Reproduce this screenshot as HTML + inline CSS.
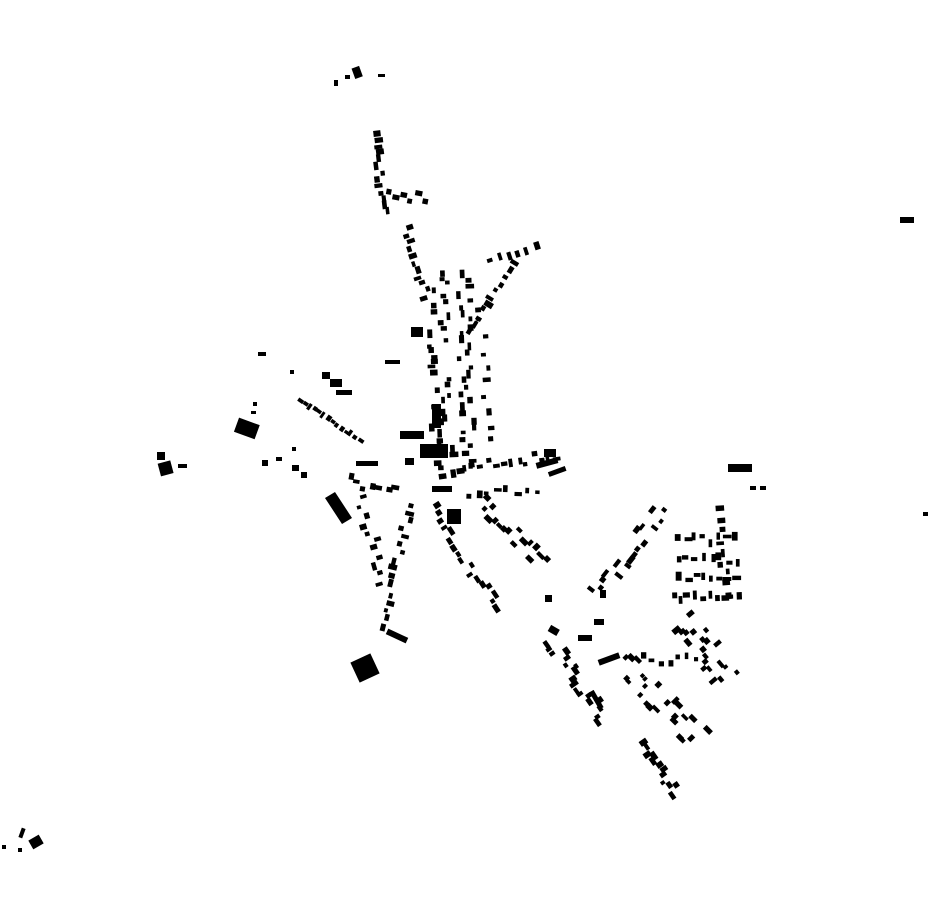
<!DOCTYPE html>
<html><head><meta charset="utf-8"><style>
html,body{margin:0;padding:0;background:#fff;}
svg{display:block;}
</style></head><body>
<svg id="s" width="930" height="924" viewBox="0 0 930 924" xmlns="http://www.w3.org/2000/svg">
<g fill="#000" id="g">
<!-- top -->
<rect x="353" y="67" width="8" height="11" transform="rotate(-20 357 72)"/>
<rect x="345" y="75" width="5" height="4"/>
<rect x="334" y="80" width="4" height="6"/>
<rect x="378" y="74" width="7" height="3"/>
<!-- large individual -->
<rect x="411" y="327" width="12" height="10"/>
<rect x="385" y="360" width="15" height="4"/>
<rect x="432" y="404" width="9" height="24"/>
<rect x="236" y="421" width="22" height="15" transform="rotate(20 247 428)"/>
<rect x="251" y="411" width="5" height="3"/>
<rect x="253" y="402" width="4" height="4"/>
<rect x="258" y="352" width="8" height="4"/>
<rect x="290" y="370" width="4" height="4"/>
<rect x="322" y="372" width="8" height="7"/>
<rect x="330" y="379" width="12" height="8"/>
<rect x="336" y="390" width="16" height="5"/>
<rect x="157" y="452" width="8" height="8"/>
<rect x="159" y="462" width="13" height="13" transform="rotate(-15 165 468)"/>
<rect x="178" y="464" width="9" height="4"/>
<rect x="262" y="460" width="6" height="6"/>
<rect x="276" y="457" width="6" height="4"/>
<rect x="292" y="447" width="4" height="4"/>
<rect x="292" y="465" width="7" height="6"/>
<rect x="301" y="472" width="6" height="6"/>
<rect x="400" y="431" width="24" height="8"/>
<rect x="420" y="444" width="28" height="14"/>
<rect x="405" y="458" width="9" height="7"/>
<rect x="356" y="461" width="22" height="5"/>
<rect x="432" y="486" width="20" height="6"/>
<rect x="447" y="509" width="14" height="15"/>
<polygon points="325,498 335,492 352,518 342,524"/>
<rect x="386" y="633" width="22" height="6" transform="rotate(25 397 636)"/>
<rect x="354" y="657" width="22" height="22" transform="rotate(-25 365 668)"/>
<rect x="536" y="460" width="22" height="6" transform="rotate(-15 547 463)"/>
<rect x="544" y="449" width="12" height="8"/>
<rect x="548" y="469" width="18" height="5" transform="rotate(-20 557 471)"/>
<rect x="728" y="464" width="24" height="8"/>
<rect x="750" y="486" width="6" height="4"/>
<rect x="760" y="486" width="6" height="4"/>
<rect x="900" y="217" width="14" height="6"/>
<rect x="923" y="512" width="5" height="4"/>
<rect x="578" y="635" width="14" height="6"/>
<rect x="594" y="619" width="10" height="6"/>
<rect x="598" y="656" width="22" height="6" transform="rotate(-20 609 659)"/>
<rect x="545" y="595" width="7" height="7"/>
<rect x="549" y="627" width="10" height="7" transform="rotate(30 554 630)"/>
<rect x="600" y="590" width="6" height="8"/>
<rect x="594" y="690" width="5" height="20" transform="rotate(-30 596 700)"/>
<!-- bottom-left -->
<rect x="30" y="837" width="12" height="10" transform="rotate(-30 36 842)"/>
<rect x="20" y="828" width="4" height="10" transform="rotate(20 22 833)"/>
<rect x="18" y="848" width="4" height="4"/>
<rect x="2" y="845" width="4" height="4"/>
</g>
</svg>
<script>
(function(){
var g=document.getElementById('g');var seed=12345;
function r(){seed=(seed*1103515245+12345)%2147483648;return seed/2147483648;}
function add(x,y,w,h,a){var e=document.createElementNS('http://www.w3.org/2000/svg','rect');
e.setAttribute('x',(x-w/2).toFixed(1));e.setAttribute('y',(y-h/2).toFixed(1));
e.setAttribute('width',w.toFixed(1));e.setAttribute('height',h.toFixed(1));
e.setAttribute('transform','rotate('+a.toFixed(0)+' '+x.toFixed(1)+' '+y.toFixed(1)+')');g.appendChild(e);}
function st(x1,y1,x2,y2,n,sp,sz){sz=sz||1;var ang=Math.atan2(y2-y1,x2-x1)*180/Math.PI;
for(var i=0;i<n;i++){var t=(i+0.5)/n+(r()-0.5)*0.5/n;var dx=x2-x1,dy=y2-y1,L=Math.sqrt(dx*dx+dy*dy);
var o=(r()-0.5)*2*sp;var x=x1+dx*t-dy/L*o,y=y1+dy*t+dx/L*o;
var w=(4+r()*5)*sz,h=(3.5+r()*2.5)*sz;add(x,y,w,h,ang+(r()<0.5?0:90));}}
st(375,130,385,215,13,4);
st(386,192,428,200,6,5);
st(405,225,430,300,11,6);
st(438,270,445,470,36,12);
st(462,270,470,470,30,8);
st(480,300,490,450,10,4,0.9);
st(540,245,488,262,6,2);
st(515,260,470,335,11,3);
st(298,398,362,442,14,1,0.8);
st(440,472,560,455,16,5);
st(465,492,540,495,8,6);
st(412,500,380,630,16,5);
st(360,495,385,585,11,6);
st(345,480,400,490,7,6);
st(430,505,500,612,17,6);
st(480,500,545,565,16,8);
st(665,505,595,595,17,8);
st(675,540,740,540,8,4);
st(675,560,740,560,8,4);
st(675,578,740,578,8,4);
st(670,598,742,595,10,3);
st(718,503,725,600,9,5);
st(680,620,730,680,20,14);
st(550,640,605,720,18,8);
st(620,660,700,740,24,14);
st(640,660,700,660,7,5);
st(640,742,677,795,12,7);
})();
</script>
</body></html>
